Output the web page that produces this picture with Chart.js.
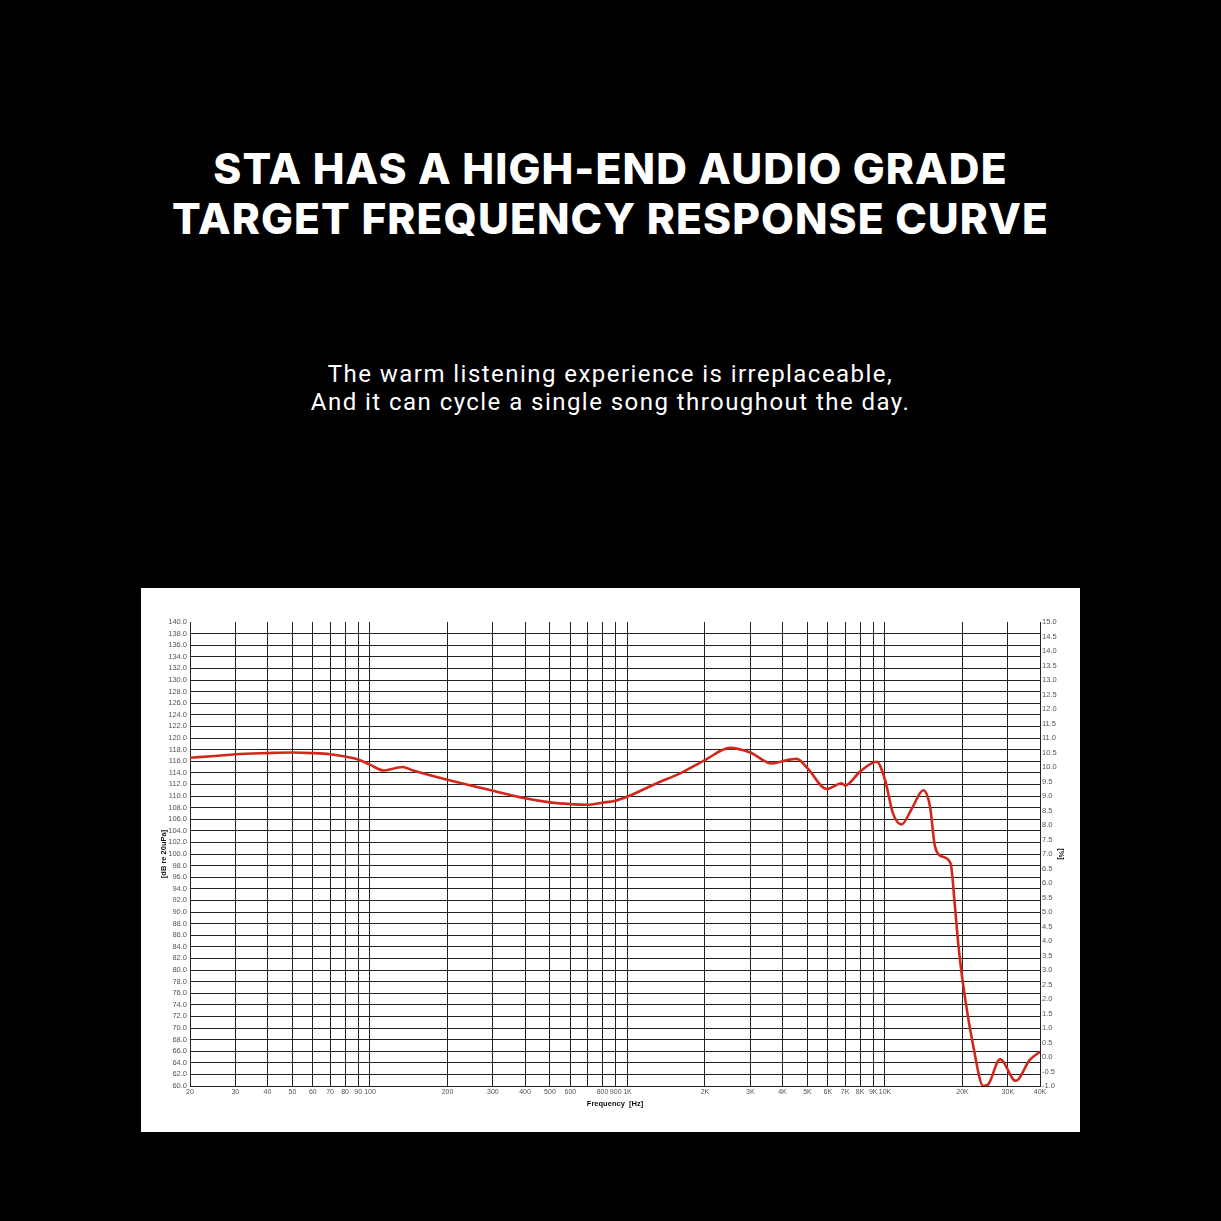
<!DOCTYPE html>
<html>
<head>
<meta charset="utf-8">
<script src="https://cdn.jsdelivr.net/npm/chart.js@4/dist/chart.umd.min.js"></script>
<style>
    html, body { margin: 0; padding: 0; background: #000; width: 1221px; height: 1221px; overflow: hidden; }
    .line { position: absolute; left: 0; width: 1221px; text-align: center; color: #fff; white-space: nowrap; }
    .big { font-family: 'Inter', 'Lato', sans-serif; font-weight: 800; font-size: 42.5px; line-height: 44px; letter-spacing: 1.1px; }
    .small { font-family: 'Roboto', 'Open Sans', sans-serif; font-weight: 400; font-size: 24px; line-height: 24px; letter-spacing: 1.45px; }
    #panel { position: absolute; left: 141px; top: 588px; width: 939px; height: 544px; background: #fff; }
</style>
</head>
<body>
<div class="line big" style="top:147px">STA HAS A HIGH-END AUDIO GRADE</div>
<div class="line big" style="top:197px">TARGET FREQUENCY RESPONSE CURVE</div>
<div class="line small" style="top:362px">The warm listening experience is irreplaceable,</div>
<div class="line small" style="top:390px">And it can cycle a single song throughout the day.</div>
<div id="panel"><canvas id="fr-chart" width="939" height="544"></canvas></div>
<script>
    // frequency axis: gridline positions and their printed labels (700 has no label)
    const FREQ_TICKS = [20, 30, 40, 50, 60, 70, 80, 90, 100, 200, 300, 400, 500, 600, 700, 800, 900, 1000,
        2000, 3000, 4000, 5000, 6000, 7000, 8000, 9000, 10000, 20000, 30000, 40000];
    const FREQ_LABELS = ['20', '30', '40', '50', '60', '70', '80', '90', '100', '200', '300', '400', '500', '600', '',
        '800', '900', '1K', '2K', '3K', '4K', '5K', '6K', '7K', '8K', '9K', '10K', '20K', '30K', '40K'];

    // response curve
    const FREQ_HZ = [20, 25, 30, 40, 50, 60, 70, 80, 90, 100, 113, 125, 134, 145, 200, 300, 400, 500, 600, 700,
        800, 900, 1000, 1300, 1600, 2000, 2500, 3000, 3630, 4000, 4540, 5000, 5940, 6790, 7000, 8000, 9290,
        10000, 10740, 11600, 12740, 14090, 14960, 15640, 16840, 18000, 18700, 19250, 20000, 22040, 24100,
        25200, 27980, 32200, 36500, 40000];
    const LEVEL_DB = [116.6, 116.9, 117.2, 117.4, 117.5, 117.4, 117.2, 116.8, 116.3, 115.4, 114.4, 114.8, 115.0,
        114.5, 112.8, 110.9, 109.6, 108.9, 108.6, 108.5, 108.85, 109.2, 109.9, 112.2, 113.9, 116.2, 118.3, 117.5,
        115.6, 116.0, 116.4, 114.8, 111.2, 112.2, 111.8, 114.2, 115.9, 112.8, 107.0, 105.1, 107.9, 111.0,
        108.2, 101.3, 99.5, 98.3, 90.9, 84.6, 78.3, 66.8, 60.0, 60.3, 64.6, 60.9, 64.5, 65.9];

    const DB_MIN = 60, DB_MAX = 140, DB_STEP = 2;
    const PCT_MIN = -1, PCT_MAX = 15, PCT_STEP = 0.5;

    const GRID = '#222';
    const TICK_COLOR = '#555';
    const TICK_FONT = { family: "'Liberation Sans', Arial, sans-serif", size: 7.5 };
    const X_TICK_FONT = { family: "'Liberation Sans', Arial, sans-serif", size: 7 };
    const TITLE_FONT = { family: "'Liberation Sans', Arial, sans-serif", size: 7.5, weight: 'bold' };

    const points = FREQ_HZ.map(function (f, i) {
        return { x: f, y: LEVEL_DB[i] };
    });

    new Chart(document.getElementById('fr-chart').getContext('2d'), {
        type: 'line',
        data: {
            datasets: [{
                data: points,
                yAxisID: 'y',
                borderColor: '#d2281c',
                borderWidth: 2.6,
                pointRadius: 0,
                fill: false,
                cubicInterpolationMode: 'monotone',
            }],
        },
        options: {
            responsive: false,
            animation: false,
            layout: { padding: { top: 34, left: 0, right: 0, bottom: 0 } },
            plugins: { legend: { display: false }, tooltip: { enabled: false } },
            scales: {
                x: {
                    type: 'logarithmic',
                    min: 20,
                    max: 40000,
                    afterBuildTicks: function (scale) {
                        scale.ticks = FREQ_TICKS.map(function (v) { return { value: v }; });
                    },
                    afterFit: function (scale) { scale.height = 46; },
                    ticks: {
                        autoSkip: false,
                        maxRotation: 0,
                        color: TICK_COLOR,
                        font: X_TICK_FONT,
                        padding: 2,
                        callback: function (value, index) { return FREQ_LABELS[index]; },
                    },
                    grid: { color: GRID, lineWidth: 1, drawTicks: false },
                    border: { color: GRID, width: 1 },
                    title: {
                        display: true,
                        text: 'Frequency  [Hz]',
                        color: '#111',
                        font: TITLE_FONT,
                        padding: { top: 0, bottom: 24 },
                    },
                },
                y: {
                    position: 'left',
                    min: DB_MIN,
                    max: DB_MAX,
                    afterFit: function (scale) { scale.width = 49; },
                    ticks: {
                        stepSize: DB_STEP,
                        autoSkip: false,
                        color: TICK_COLOR,
                        font: TICK_FONT,
                        padding: 3,
                        callback: function (v) { return v.toFixed(1); },
                    },
                    grid: {
                        drawTicks: false,
                        lineWidth: 1,
                        color: function (ctx) {
                            return ctx.tick && ctx.tick.value === DB_MAX ? 'rgba(0,0,0,0)' : GRID;
                        },
                    },
                    border: { color: GRID, width: 1 },
                    title: {
                        display: true,
                        text: '[dB re 20uPa]',
                        color: '#111',
                        font: TITLE_FONT,
                        padding: { top: 18, bottom: 0 },
                    },
                },
                y2: {
                    position: 'right',
                    min: PCT_MIN,
                    max: PCT_MAX,
                    afterFit: function (scale) { scale.width = 40; },
                    ticks: {
                        stepSize: PCT_STEP,
                        autoSkip: false,
                        color: TICK_COLOR,
                        font: TICK_FONT,
                        padding: 2,
                        callback: function (v) { return v.toFixed(1); },
                    },
                    grid: { drawOnChartArea: false, drawTicks: false },
                    border: { color: GRID, width: 1 },
                    title: {
                        display: true,
                        text: '[%]',
                        color: '#111',
                        font: TITLE_FONT,
                        padding: { top: 14, bottom: 0 },
                    },
                },
            },
        },
    });
</script>
</body>
</html>
